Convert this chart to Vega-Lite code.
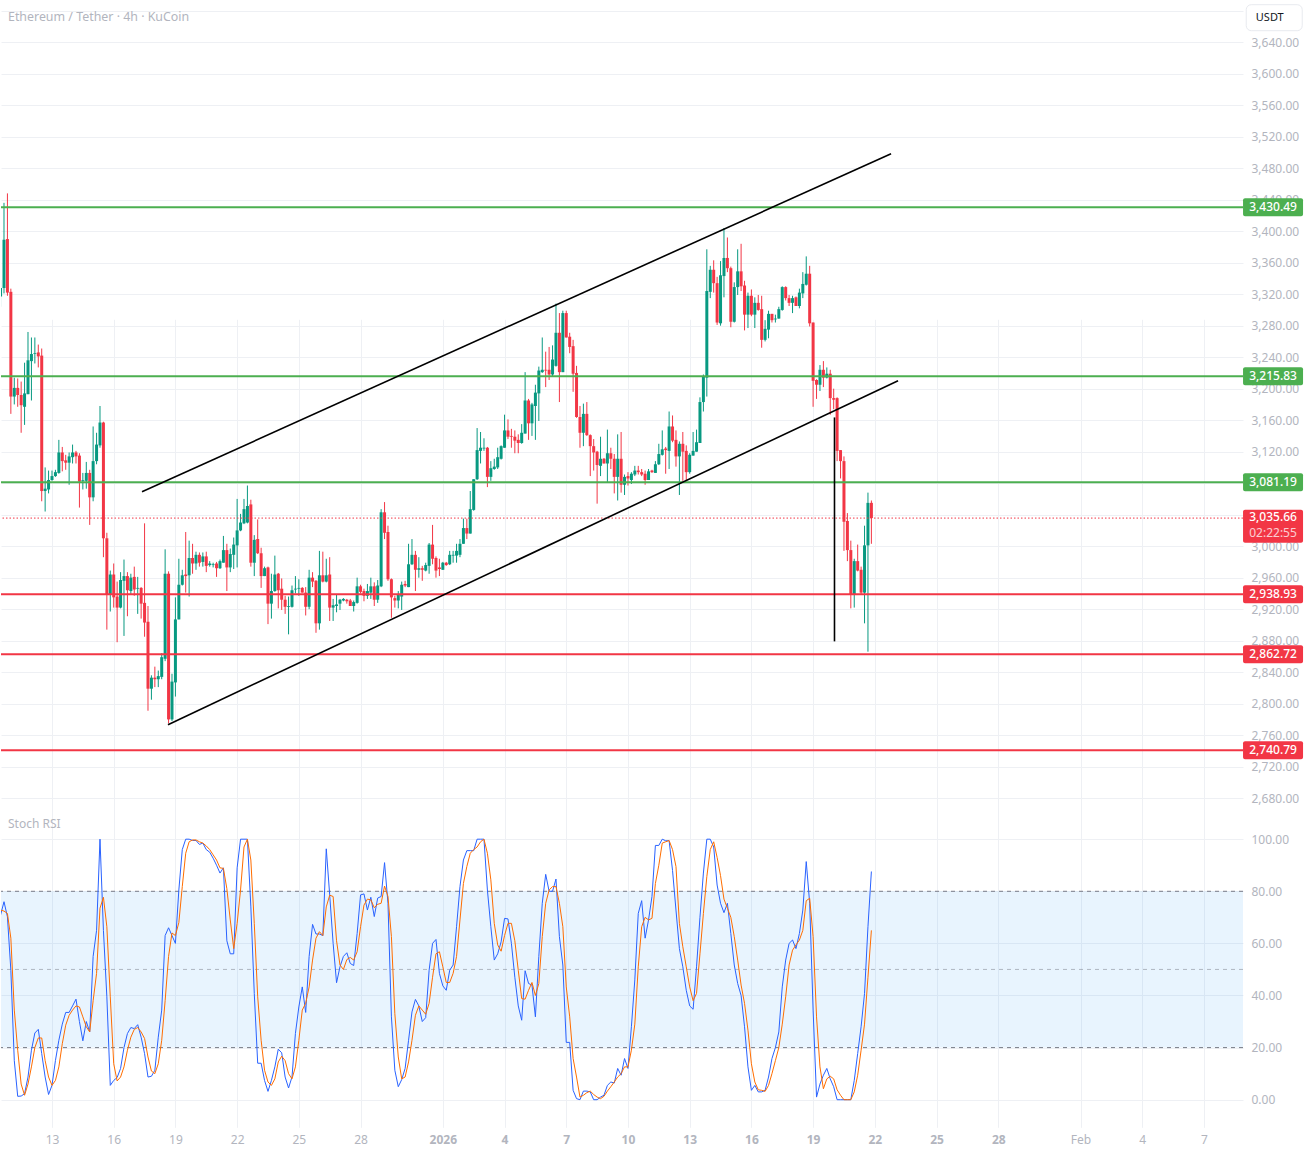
{
"$schema":"https://vega.github.io/schema/vega-lite/v6.json",
"width":1242,"height":1128,"padding":0,"background":"#ffffff",
"datasets":{
"bars":[
{"t":"2025-12-10T12:00Z","o":3317,"h":3338,"l":3304,"c":3328,"k":70.9,"d":72.8},
{"t":"2025-12-10T16:00Z","o":3328,"h":3436,"l":3321,"c":3389,"k":76,"d":72.4},
{"t":"2025-12-10T20:00Z","o":3390,"h":3448,"l":3318,"c":3322,"k":70.2,"d":71.5},
{"t":"2025-12-11T00:00Z","o":3323,"h":3327,"l":3168,"c":3190,"k":49.7,"d":62},
{"t":"2025-12-11T04:00Z","o":3190,"h":3214,"l":3180,"c":3201,"k":15,"d":34.4},
{"t":"2025-12-11T08:00Z","o":3201,"h":3213,"l":3177,"c":3192,"k":1.3,"d":19},
{"t":"2025-12-11T12:00Z","o":3192,"h":3209,"l":3144,"c":3179,"k":1.4,"d":6},
{"t":"2025-12-11T16:00Z","o":3177,"h":3233,"l":3154,"c":3194,"k":2.3,"d":1.7},
{"t":"2025-12-11T20:00Z","o":3193,"h":3272,"l":3193,"c":3236,"k":8.7,"d":6},
{"t":"2025-12-12T00:00Z","o":3235,"h":3265,"l":3185,"c":3244,"k":19,"d":12.6},
{"t":"2025-12-12T04:00Z","o":3244,"h":3265,"l":3232,"c":3245,"k":25.6,"d":20},
{"t":"2025-12-12T08:00Z","o":3246,"h":3256,"l":3227,"c":3241,"k":27,"d":23.7},
{"t":"2025-12-12T12:00Z","o":3242,"h":3251,"l":3057,"c":3070,"k":17.7,"d":23.7},
{"t":"2025-12-12T16:00Z","o":3070,"h":3100,"l":3044,"c":3073,"k":8.7,"d":15},
{"t":"2025-12-12T20:00Z","o":3072,"h":3096,"l":3067,"c":3084,"k":2,"d":8.7},
{"t":"2025-12-13T00:00Z","o":3084,"h":3096,"l":3083,"c":3089,"k":5.5,"d":5.5},
{"t":"2025-12-13T04:00Z","o":3089,"h":3097,"l":3088,"c":3094,"k":15,"d":7.4},
{"t":"2025-12-13T08:00Z","o":3093,"h":3135,"l":3092,"c":3119,"k":22.8,"d":12.6},
{"t":"2025-12-13T12:00Z","o":3119,"h":3126,"l":3095,"c":3108,"k":29,"d":21.5},
{"t":"2025-12-13T16:00Z","o":3109,"h":3116,"l":3097,"c":3106,"k":33.5,"d":28.6},
{"t":"2025-12-13T20:00Z","o":3106,"h":3119,"l":3078,"c":3114,"k":33.5,"d":32.4},
{"t":"2025-12-14T00:00Z","o":3113,"h":3129,"l":3105,"c":3119,"k":36,"d":34.4},
{"t":"2025-12-14T04:00Z","o":3119,"h":3121,"l":3105,"c":3114,"k":38.6,"d":36},
{"t":"2025-12-14T08:00Z","o":3115,"h":3118,"l":3049,"c":3082,"k":30,"d":35.6},
{"t":"2025-12-14T12:00Z","o":3083,"h":3093,"l":3072,"c":3084,"k":22.6,"d":31.8},
{"t":"2025-12-14T16:00Z","o":3083,"h":3107,"l":3073,"c":3093,"k":30,"d":28},
{"t":"2025-12-14T20:00Z","o":3093,"h":3097,"l":3027,"c":3062,"k":26,"d":26},
{"t":"2025-12-15T00:00Z","o":3062,"h":3152,"l":3057,"c":3108,"k":55,"d":38},
{"t":"2025-12-15T04:00Z","o":3108,"h":3144,"l":3104,"c":3129,"k":65,"d":48.5},
{"t":"2025-12-15T08:00Z","o":3128,"h":3178,"l":3125,"c":3157,"k":100,"d":73.5},
{"t":"2025-12-15T12:00Z","o":3157,"h":3158,"l":2986,"c":3010,"k":65,"d":77.7},
{"t":"2025-12-15T16:00Z","o":3010,"h":3017,"l":2894,"c":2938,"k":39.5,"d":66.4},
{"t":"2025-12-15T20:00Z","o":2938,"h":2969,"l":2917,"c":2964,"k":5.5,"d":39.5},
{"t":"2025-12-16T00:00Z","o":2964,"h":2978,"l":2922,"c":2935,"k":7.4,"d":13.8},
{"t":"2025-12-16T04:00Z","o":2936,"h":2955,"l":2878,"c":2922,"k":8.5,"d":7.2},
{"t":"2025-12-16T08:00Z","o":2922,"h":2967,"l":2921,"c":2957,"k":12,"d":8.7},
{"t":"2025-12-16T12:00Z","o":2956,"h":2983,"l":2886,"c":2962,"k":20,"d":12.6},
{"t":"2025-12-16T16:00Z","o":2962,"h":2967,"l":2911,"c":2944,"k":25.4,"d":19},
{"t":"2025-12-16T20:00Z","o":2943,"h":2965,"l":2938,"c":2960,"k":27.7,"d":24},
{"t":"2025-12-17T00:00Z","o":2961,"h":2974,"l":2937,"c":2945,"k":27.3,"d":27},
{"t":"2025-12-17T04:00Z","o":2946,"h":2961,"l":2914,"c":2947,"k":28.8,"d":27.7},
{"t":"2025-12-17T08:00Z","o":2947,"h":2948,"l":2908,"c":2927,"k":24,"d":26},
{"t":"2025-12-17T12:00Z","o":2928,"h":3029,"l":2885,"c":2903,"k":17.7,"d":23.5},
{"t":"2025-12-17T16:00Z","o":2904,"h":2924,"l":2791,"c":2819,"k":8.7,"d":16.4},
{"t":"2025-12-17T20:00Z","o":2819,"h":2836,"l":2805,"c":2833,"k":9,"d":11},
{"t":"2025-12-18T00:00Z","o":2833,"h":2847,"l":2821,"c":2831,"k":11.3,"d":10},
{"t":"2025-12-18T04:00Z","o":2831,"h":2842,"l":2821,"c":2835,"k":24,"d":13.8},
{"t":"2025-12-18T08:00Z","o":2834,"h":2864,"l":2831,"c":2859,"k":34.4,"d":22.8},
{"t":"2025-12-18T12:00Z","o":2857,"h":2996,"l":2854,"c":2965,"k":63,"d":38},
{"t":"2025-12-18T16:00Z","o":2965,"h":2968,"l":2775,"c":2780,"k":66,"d":55},
{"t":"2025-12-18T20:00Z","o":2780,"h":2838,"l":2778,"c":2828,"k":63,"d":64},
{"t":"2025-12-19T00:00Z","o":2827,"h":2935,"l":2809,"c":2907,"k":60,"d":63},
{"t":"2025-12-19T04:00Z","o":2907,"h":2984,"l":2907,"c":2951,"k":80.5,"d":68},
{"t":"2025-12-19T08:00Z","o":2951,"h":2970,"l":2950,"c":2963,"k":96,"d":81.8},
{"t":"2025-12-19T12:00Z","o":2964,"h":3018,"l":2941,"c":2962,"k":100,"d":94.6},
{"t":"2025-12-19T16:00Z","o":2963,"h":3007,"l":2936,"c":2985,"k":100,"d":99},
{"t":"2025-12-19T20:00Z","o":2985,"h":3003,"l":2965,"c":2978,"k":99.5,"d":99.7},
{"t":"2025-12-20T00:00Z","o":2978,"h":2993,"l":2970,"c":2989,"k":99.5,"d":99.7},
{"t":"2025-12-20T04:00Z","o":2989,"h":2992,"l":2974,"c":2979,"k":98,"d":99},
{"t":"2025-12-20T08:00Z","o":2980,"h":2992,"l":2974,"c":2987,"k":98.5,"d":98.5},
{"t":"2025-12-20T12:00Z","o":2987,"h":2993,"l":2967,"c":2975,"k":96,"d":97.4},
{"t":"2025-12-20T16:00Z","o":2976,"h":2981,"l":2974,"c":2978,"k":95,"d":96},
{"t":"2025-12-20T20:00Z","o":2976,"h":2979,"l":2973,"c":2977,"k":92.7,"d":94},
{"t":"2025-12-21T00:00Z","o":2978,"h":2980,"l":2961,"c":2972,"k":90,"d":92},
{"t":"2025-12-21T04:00Z","o":2972,"h":2983,"l":2971,"c":2981,"k":87,"d":89},
{"t":"2025-12-21T08:00Z","o":2979,"h":3013,"l":2979,"c":2995,"k":89,"d":88.8},
{"t":"2025-12-21T12:00Z","o":2995,"h":3003,"l":2943,"c":2973,"k":61,"d":81},
{"t":"2025-12-21T16:00Z","o":2973,"h":2997,"l":2967,"c":2990,"k":56,"d":69},
{"t":"2025-12-21T20:00Z","o":2989,"h":3011,"l":2971,"c":3002,"k":56,"d":58},
{"t":"2025-12-22T00:00Z","o":3001,"h":3060,"l":2973,"c":3020,"k":89,"d":67.7},
{"t":"2025-12-22T04:00Z","o":3020,"h":3041,"l":3019,"c":3030,"k":100,"d":80.5},
{"t":"2025-12-22T08:00Z","o":3029,"h":3060,"l":3028,"c":3047,"k":100,"d":97},
{"t":"2025-12-22T12:00Z","o":3030,"h":3077,"l":3029,"c":3051,"k":100,"d":100},
{"t":"2025-12-22T16:00Z","o":3053,"h":3059,"l":2974,"c":2979,"k":74,"d":92},
{"t":"2025-12-22T20:00Z","o":2979,"h":3014,"l":2962,"c":3008,"k":40.8,"d":67.7},
{"t":"2025-12-23T00:00Z","o":3009,"h":3034,"l":2990,"c":2991,"k":14,"d":39.5},
{"t":"2025-12-23T04:00Z","o":2991,"h":2998,"l":2947,"c":2962,"k":14,"d":22.8},
{"t":"2025-12-23T08:00Z","o":2962,"h":2974,"l":2962,"c":2972,"k":7.4,"d":11.3},
{"t":"2025-12-23T12:00Z","o":2973,"h":2974,"l":2901,"c":2927,"k":3.2,"d":6.8},
{"t":"2025-12-23T16:00Z","o":2927,"h":2965,"l":2908,"c":2943,"k":7.4,"d":5.5},
{"t":"2025-12-23T20:00Z","o":2943,"h":2988,"l":2942,"c":2964,"k":12.6,"d":8},
{"t":"2025-12-24T00:00Z","o":2965,"h":2966,"l":2921,"c":2944,"k":19.4,"d":14.5},
{"t":"2025-12-24T04:00Z","o":2946,"h":2959,"l":2919,"c":2932,"k":18,"d":16.7},
{"t":"2025-12-24T08:00Z","o":2932,"h":2937,"l":2914,"c":2923,"k":8.7,"d":15},
{"t":"2025-12-24T12:00Z","o":2923,"h":2936,"l":2888,"c":2924,"k":4.5,"d":10},
{"t":"2025-12-24T16:00Z","o":2923,"h":2950,"l":2922,"c":2944,"k":8.7,"d":8},
{"t":"2025-12-24T20:00Z","o":2945,"h":2962,"l":2940,"c":2946,"k":25.4,"d":12.6},
{"t":"2025-12-25T00:00Z","o":2946,"h":2958,"l":2937,"c":2947,"k":35.6,"d":22.8},
{"t":"2025-12-25T04:00Z","o":2947,"h":2948,"l":2941,"c":2941,"k":43.3,"d":34.4},
{"t":"2025-12-25T08:00Z","o":2941,"h":2948,"l":2912,"c":2923,"k":33.5,"d":37},
{"t":"2025-12-25T12:00Z","o":2923,"h":2970,"l":2920,"c":2960,"k":55,"d":43.3},
{"t":"2025-12-25T16:00Z","o":2960,"h":2967,"l":2948,"c":2955,"k":67.3,"d":53.6},
{"t":"2025-12-25T20:00Z","o":2956,"h":2957,"l":2890,"c":2902,"k":63.6,"d":62},
{"t":"2025-12-26T00:00Z","o":2902,"h":2994,"l":2894,"c":2963,"k":63.6,"d":64.5},
{"t":"2025-12-26T04:00Z","o":2963,"h":2993,"l":2954,"c":2955,"k":63,"d":63},
{"t":"2025-12-26T08:00Z","o":2955,"h":2984,"l":2954,"c":2963,"k":96.3,"d":74},
{"t":"2025-12-26T12:00Z","o":2964,"h":2986,"l":2905,"c":2922,"k":78.6,"d":78.5},
{"t":"2025-12-26T16:00Z","o":2922,"h":2933,"l":2905,"c":2925,"k":60,"d":78},
{"t":"2025-12-26T20:00Z","o":2924,"h":2938,"l":2916,"c":2926,"k":44.9,"d":61},
{"t":"2025-12-27T00:00Z","o":2927,"h":2933,"l":2919,"c":2932,"k":51,"d":51.7},
{"t":"2025-12-27T04:00Z","o":2931,"h":2934,"l":2930,"c":2933,"k":55,"d":50},
{"t":"2025-12-27T08:00Z","o":2932,"h":2933,"l":2927,"c":2930,"k":56.4,"d":53.8},
{"t":"2025-12-27T12:00Z","o":2931,"h":2933,"l":2924,"c":2924,"k":52.3,"d":54.6},
{"t":"2025-12-27T16:00Z","o":2924,"h":2931,"l":2917,"c":2929,"k":51.5,"d":53.6},
{"t":"2025-12-27T20:00Z","o":2928,"h":2960,"l":2927,"c":2949,"k":63.8,"d":56.8},
{"t":"2025-12-28T00:00Z","o":2949,"h":2951,"l":2940,"c":2942,"k":78.6,"d":66.4},
{"t":"2025-12-28T04:00Z","o":2943,"h":2946,"l":2930,"c":2937,"k":79,"d":74.7},
{"t":"2025-12-28T08:00Z","o":2937,"h":2952,"l":2933,"c":2943,"k":72.8,"d":77},
{"t":"2025-12-28T12:00Z","o":2941,"h":2960,"l":2933,"c":2949,"k":77.7,"d":76.7},
{"t":"2025-12-28T16:00Z","o":2949,"h":2954,"l":2924,"c":2932,"k":70.3,"d":73.7},
{"t":"2025-12-28T20:00Z","o":2932,"h":2957,"l":2928,"c":2950,"k":77.4,"d":75},
{"t":"2025-12-29T00:00Z","o":2949,"h":3047,"l":2948,"c":3043,"k":78,"d":75.4},
{"t":"2025-12-29T04:00Z","o":3043,"h":3056,"l":3009,"c":3017,"k":91,"d":82},
{"t":"2025-12-29T08:00Z","o":3018,"h":3026,"l":2956,"c":2958,"k":75.4,"d":78},
{"t":"2025-12-29T12:00Z","o":2958,"h":2959,"l":2909,"c":2935,"k":31.8,"d":62.6},
{"t":"2025-12-29T16:00Z","o":2934,"h":2937,"l":2922,"c":2931,"k":11.3,"d":33},
{"t":"2025-12-29T20:00Z","o":2931,"h":2943,"l":2921,"c":2939,"k":5,"d":16.4},
{"t":"2025-12-30T00:00Z","o":2936,"h":2955,"l":2919,"c":2951,"k":7.7,"d":8},
{"t":"2025-12-30T04:00Z","o":2952,"h":2956,"l":2948,"c":2950,"k":12,"d":8.7},
{"t":"2025-12-30T08:00Z","o":2948,"h":3003,"l":2948,"c":2977,"k":22.8,"d":14.5},
{"t":"2025-12-30T12:00Z","o":2977,"h":3009,"l":2976,"c":2989,"k":33.7,"d":22.8},
{"t":"2025-12-30T16:00Z","o":2989,"h":2994,"l":2943,"c":2970,"k":38.5,"d":32.4},
{"t":"2025-12-30T20:00Z","o":2970,"h":2986,"l":2960,"c":2972,"k":36,"d":36},
{"t":"2025-12-31T00:00Z","o":2972,"h":2975,"l":2956,"c":2970,"k":30,"d":34.4},
{"t":"2025-12-31T04:00Z","o":2969,"h":2979,"l":2968,"c":2976,"k":31.5,"d":32.8},
{"t":"2025-12-31T08:00Z","o":2975,"h":3004,"l":2965,"c":3002,"k":49.7,"d":37},
{"t":"2025-12-31T12:00Z","o":3002,"h":3027,"l":2977,"c":2984,"k":60,"d":47},
{"t":"2025-12-31T16:00Z","o":2985,"h":2987,"l":2960,"c":2969,"k":61.5,"d":56},
{"t":"2025-12-31T20:00Z","o":2973,"h":2984,"l":2962,"c":2971,"k":48.5,"d":56.8},
{"t":"2026-01-01T00:00Z","o":2970,"h":2980,"l":2970,"c":2979,"k":43.7,"d":51},
{"t":"2026-01-01T04:00Z","o":2979,"h":2980,"l":2975,"c":2976,"k":42,"d":45},
{"t":"2026-01-01T08:00Z","o":2977,"h":2994,"l":2976,"c":2989,"k":49.7,"d":45},
{"t":"2026-01-01T12:00Z","o":2988,"h":2994,"l":2979,"c":2989,"k":51.7,"d":48.5},
{"t":"2026-01-01T16:00Z","o":2988,"h":3003,"l":2979,"c":2994,"k":66.4,"d":55},
{"t":"2026-01-01T20:00Z","o":2989,"h":3009,"l":2986,"c":3003,"k":81.8,"d":69},
{"t":"2026-01-02T00:00Z","o":3003,"h":3035,"l":3003,"c":3023,"k":92,"d":83},
{"t":"2026-01-02T04:00Z","o":3023,"h":3035,"l":3009,"c":3016,"k":95.6,"d":89.5},
{"t":"2026-01-02T08:00Z","o":3016,"h":3070,"l":3016,"c":3047,"k":95.6,"d":94.6},
{"t":"2026-01-02T12:00Z","o":3046,"h":3085,"l":3045,"c":3085,"k":95.6,"d":96},
{"t":"2026-01-02T16:00Z","o":3085,"h":3150,"l":3084,"c":3122,"k":100,"d":97},
{"t":"2026-01-02T20:00Z","o":3121,"h":3145,"l":3105,"c":3125,"k":100,"d":99},
{"t":"2026-01-03T00:00Z","o":3124,"h":3137,"l":3121,"c":3125,"k":100,"d":100},
{"t":"2026-01-03T04:00Z","o":3125,"h":3126,"l":3075,"c":3088,"k":80.5,"d":94.6},
{"t":"2026-01-03T08:00Z","o":3088,"h":3108,"l":3083,"c":3099,"k":66.4,"d":84.4},
{"t":"2026-01-03T12:00Z","o":3098,"h":3111,"l":3097,"c":3101,"k":53.6,"d":67.7},
{"t":"2026-01-03T16:00Z","o":3100,"h":3125,"l":3098,"c":3113,"k":56,"d":59.4},
{"t":"2026-01-03T20:00Z","o":3111,"h":3128,"l":3110,"c":3127,"k":60.6,"d":57},
{"t":"2026-01-04T00:00Z","o":3125,"h":3167,"l":3125,"c":3147,"k":69.6,"d":63},
{"t":"2026-01-04T04:00Z","o":3147,"h":3161,"l":3136,"c":3139,"k":69.4,"d":67.7},
{"t":"2026-01-04T08:00Z","o":3140,"h":3149,"l":3125,"c":3139,"k":60,"d":67.7},
{"t":"2026-01-04T12:00Z","o":3139,"h":3147,"l":3118,"c":3134,"k":47,"d":61},
{"t":"2026-01-04T16:00Z","o":3135,"h":3142,"l":3118,"c":3131,"k":36,"d":49.7},
{"t":"2026-01-04T20:00Z","o":3131,"h":3155,"l":3130,"c":3144,"k":30.5,"d":38.8},
{"t":"2026-01-05T00:00Z","o":3143,"h":3221,"l":3143,"c":3185,"k":49.5,"d":38.6},
{"t":"2026-01-05T04:00Z","o":3185,"h":3187,"l":3135,"c":3156,"k":44.6,"d":42},
{"t":"2026-01-05T08:00Z","o":3156,"h":3182,"l":3140,"c":3180,"k":44,"d":45},
{"t":"2026-01-05T12:00Z","o":3178,"h":3205,"l":3135,"c":3195,"k":31.8,"d":40},
{"t":"2026-01-05T16:00Z","o":3194,"h":3228,"l":3159,"c":3223,"k":55,"d":44.6},
{"t":"2026-01-05T20:00Z","o":3221,"h":3265,"l":3220,"c":3224,"k":75.4,"d":62.6},
{"t":"2026-01-06T00:00Z","o":3224,"h":3247,"l":3202,"c":3223,"k":86.5,"d":75.4},
{"t":"2026-01-06T04:00Z","o":3224,"h":3253,"l":3211,"c":3218,"k":80,"d":80.5},
{"t":"2026-01-06T08:00Z","o":3218,"h":3255,"l":3215,"c":3237,"k":80,"d":81.8},
{"t":"2026-01-06T12:00Z","o":3229,"h":3308,"l":3228,"c":3271,"k":84.7,"d":81.8},
{"t":"2026-01-06T16:00Z","o":3271,"h":3296,"l":3183,"c":3221,"k":62.6,"d":75.4},
{"t":"2026-01-06T20:00Z","o":3221,"h":3299,"l":3221,"c":3296,"k":51.7,"d":66.4},
{"t":"2026-01-07T00:00Z","o":3296,"h":3299,"l":3265,"c":3265,"k":22,"d":43.3},
{"t":"2026-01-07T04:00Z","o":3266,"h":3271,"l":3245,"c":3253,"k":22,"d":31.8},
{"t":"2026-01-07T08:00Z","o":3254,"h":3262,"l":3196,"c":3219,"k":3.6,"d":15.8},
{"t":"2026-01-07T12:00Z","o":3220,"h":3229,"l":3163,"c":3164,"k":0.4,"d":8.7},
{"t":"2026-01-07T16:00Z","o":3164,"h":3178,"l":3125,"c":3144,"k":0,"d":1},
{"t":"2026-01-07T20:00Z","o":3144,"h":3181,"l":3127,"c":3168,"k":3.3,"d":1.7},
{"t":"2026-01-08T00:00Z","o":3168,"h":3183,"l":3140,"c":3141,"k":3.3,"d":2.7},
{"t":"2026-01-08T04:00Z","o":3141,"h":3142,"l":3089,"c":3127,"k":3,"d":3.3},
{"t":"2026-01-08T08:00Z","o":3127,"h":3136,"l":3096,"c":3119,"k":0,"d":2},
{"t":"2026-01-08T12:00Z","o":3120,"h":3121,"l":3054,"c":3103,"k":0,"d":1},
{"t":"2026-01-08T16:00Z","o":3102,"h":3139,"l":3089,"c":3111,"k":1,"d":0.4},
{"t":"2026-01-08T20:00Z","o":3111,"h":3112,"l":3105,"c":3105,"k":1.7,"d":1.3},
{"t":"2026-01-09T00:00Z","o":3105,"h":3148,"l":3081,"c":3118,"k":5.5,"d":3.3},
{"t":"2026-01-09T04:00Z","o":3118,"h":3125,"l":3098,"c":3111,"k":6.8,"d":5},
{"t":"2026-01-09T08:00Z","o":3111,"h":3117,"l":3067,"c":3088,"k":6.4,"d":6.8},
{"t":"2026-01-09T12:00Z","o":3088,"h":3142,"l":3058,"c":3111,"k":12,"d":8.7},
{"t":"2026-01-09T16:00Z","o":3111,"h":3145,"l":3068,"c":3078,"k":9.4,"d":10},
{"t":"2026-01-09T20:00Z","o":3078,"h":3091,"l":3065,"c":3088,"k":15.8,"d":12.6},
{"t":"2026-01-10T00:00Z","o":3089,"h":3094,"l":3077,"c":3086,"k":12,"d":12.6},
{"t":"2026-01-10T04:00Z","o":3084,"h":3094,"l":3079,"c":3092,"k":28,"d":19},
{"t":"2026-01-10T08:00Z","o":3091,"h":3102,"l":3089,"c":3096,"k":46,"d":29},
{"t":"2026-01-10T12:00Z","o":3096,"h":3102,"l":3091,"c":3094,"k":71.5,"d":51},
{"t":"2026-01-10T16:00Z","o":3094,"h":3098,"l":3089,"c":3091,"k":76.4,"d":66.4},
{"t":"2026-01-10T20:00Z","o":3092,"h":3096,"l":3078,"c":3084,"k":62,"d":70},
{"t":"2026-01-11T00:00Z","o":3084,"h":3098,"l":3084,"c":3095,"k":69,"d":69},
{"t":"2026-01-11T04:00Z","o":3096,"h":3097,"l":3093,"c":3094,"k":78,"d":69.6},
{"t":"2026-01-11T08:00Z","o":3093,"h":3108,"l":3093,"c":3104,"k":97.6,"d":83},
{"t":"2026-01-11T12:00Z","o":3104,"h":3130,"l":3103,"c":3117,"k":97.6,"d":90},
{"t":"2026-01-11T16:00Z","o":3116,"h":3147,"l":3115,"c":3123,"k":100,"d":98.5},
{"t":"2026-01-11T20:00Z","o":3124,"h":3126,"l":3092,"c":3122,"k":99.4,"d":99},
{"t":"2026-01-12T00:00Z","o":3121,"h":3171,"l":3098,"c":3152,"k":99.4,"d":99.5},
{"t":"2026-01-12T04:00Z","o":3152,"h":3166,"l":3132,"c":3134,"k":88,"d":96},
{"t":"2026-01-12T08:00Z","o":3135,"h":3147,"l":3101,"c":3114,"k":72.8,"d":89.5},
{"t":"2026-01-12T12:00Z","o":3114,"h":3133,"l":3065,"c":3130,"k":58,"d":67.7},
{"t":"2026-01-12T16:00Z","o":3130,"h":3145,"l":3083,"c":3120,"k":51,"d":58.7},
{"t":"2026-01-12T20:00Z","o":3121,"h":3128,"l":3083,"c":3094,"k":42,"d":51},
{"t":"2026-01-13T00:00Z","o":3094,"h":3118,"l":3092,"c":3116,"k":36,"d":43.3},
{"t":"2026-01-13T04:00Z","o":3115,"h":3145,"l":3115,"c":3121,"k":34.7,"d":38},
{"t":"2026-01-13T08:00Z","o":3120,"h":3148,"l":3120,"c":3132,"k":51,"d":40.8},
{"t":"2026-01-13T12:00Z","o":3131,"h":3189,"l":3131,"c":3183,"k":70,"d":56},
{"t":"2026-01-13T16:00Z","o":3183,"h":3218,"l":3171,"c":3216,"k":87,"d":71.5},
{"t":"2026-01-13T20:00Z","o":3214,"h":3377,"l":3190,"c":3324,"k":100,"d":85.6},
{"t":"2026-01-14T00:00Z","o":3323,"h":3356,"l":3315,"c":3351,"k":100,"d":96},
{"t":"2026-01-14T04:00Z","o":3351,"h":3363,"l":3322,"c":3334,"k":97,"d":99},
{"t":"2026-01-14T08:00Z","o":3334,"h":3342,"l":3281,"c":3284,"k":82.4,"d":93},
{"t":"2026-01-14T12:00Z","o":3283,"h":3362,"l":3280,"c":3344,"k":75.4,"d":86},
{"t":"2026-01-14T16:00Z","o":3343,"h":3404,"l":3316,"c":3366,"k":71.8,"d":77},
{"t":"2026-01-14T20:00Z","o":3366,"h":3392,"l":3348,"c":3353,"k":75.4,"d":73.5},
{"t":"2026-01-15T00:00Z","o":3353,"h":3355,"l":3278,"c":3285,"k":63.8,"d":70},
{"t":"2026-01-15T04:00Z","o":3285,"h":3335,"l":3284,"c":3329,"k":51.7,"d":62.6},
{"t":"2026-01-15T08:00Z","o":3329,"h":3377,"l":3319,"c":3349,"k":44.6,"d":53.6},
{"t":"2026-01-15T12:00Z","o":3349,"h":3384,"l":3324,"c":3330,"k":40,"d":44},
{"t":"2026-01-15T16:00Z","o":3331,"h":3337,"l":3274,"c":3294,"k":28,"d":37},
{"t":"2026-01-15T20:00Z","o":3294,"h":3322,"l":3277,"c":3318,"k":12.6,"d":26.7},
{"t":"2026-01-16T00:00Z","o":3318,"h":3326,"l":3292,"c":3294,"k":3.6,"d":13.8},
{"t":"2026-01-16T04:00Z","o":3294,"h":3316,"l":3277,"c":3309,"k":5.5,"d":6.8},
{"t":"2026-01-16T08:00Z","o":3309,"h":3319,"l":3299,"c":3300,"k":3,"d":3.8},
{"t":"2026-01-16T12:00Z","o":3301,"h":3318,"l":3252,"c":3262,"k":3,"d":3.6},
{"t":"2026-01-16T16:00Z","o":3262,"h":3287,"l":3260,"c":3276,"k":3.6,"d":3.2},
{"t":"2026-01-16T20:00Z","o":3275,"h":3299,"l":3264,"c":3295,"k":8.7,"d":5.5},
{"t":"2026-01-17T00:00Z","o":3295,"h":3295,"l":3284,"c":3287,"k":15.8,"d":10},
{"t":"2026-01-17T04:00Z","o":3288,"h":3294,"l":3284,"c":3289,"k":20,"d":15},
{"t":"2026-01-17T08:00Z","o":3289,"h":3304,"l":3289,"c":3301,"k":26,"d":20},
{"t":"2026-01-17T12:00Z","o":3300,"h":3330,"l":3299,"c":3329,"k":43.3,"d":29},
{"t":"2026-01-17T16:00Z","o":3329,"h":3330,"l":3312,"c":3315,"k":53.6,"d":39.5},
{"t":"2026-01-17T20:00Z","o":3315,"h":3319,"l":3305,"c":3309,"k":60,"d":51.7},
{"t":"2026-01-18T00:00Z","o":3309,"h":3318,"l":3296,"c":3315,"k":61.3,"d":57.4},
{"t":"2026-01-18T04:00Z","o":3316,"h":3317,"l":3305,"c":3305,"k":58,"d":59.4},
{"t":"2026-01-18T08:00Z","o":3305,"h":3327,"l":3302,"c":3322,"k":63.8,"d":61.3},
{"t":"2026-01-18T12:00Z","o":3321,"h":3348,"l":3315,"c":3333,"k":72.8,"d":65},
{"t":"2026-01-18T16:00Z","o":3332,"h":3368,"l":3331,"c":3346,"k":91.4,"d":76.4},
{"t":"2026-01-18T20:00Z","o":3346,"h":3356,"l":3279,"c":3283,"k":75.4,"d":77.3},
{"t":"2026-01-19T00:00Z","o":3284,"h":3284,"l":3177,"c":3210,"k":34.4,"d":62.6},
{"t":"2026-01-19T04:00Z","o":3211,"h":3212,"l":3187,"c":3205,"k":1,"d":31.8},
{"t":"2026-01-19T08:00Z","o":3205,"h":3230,"l":3197,"c":3224,"k":6,"d":12.6},
{"t":"2026-01-19T12:00Z","o":3224,"h":3235,"l":3202,"c":3214,"k":9.4,"d":4.2},
{"t":"2026-01-19T16:00Z","o":3214,"h":3227,"l":3213,"c":3219,"k":12,"d":8},
{"t":"2026-01-19T20:00Z","o":3219,"h":3224,"l":3167,"c":3188,"k":8,"d":9},
{"t":"2026-01-20T00:00Z","o":3188,"h":3200,"l":3174,"c":3186,"k":5,"d":8},
{"t":"2026-01-20T04:00Z","o":3188,"h":3189,"l":3108,"c":3121,"k":0,"d":3.8},
{"t":"2026-01-20T08:00Z","o":3122,"h":3122,"l":3086,"c":3108,"k":0,"d":1.7},
{"t":"2026-01-20T12:00Z","o":3108,"h":3114,"l":2994,"c":3031,"k":0,"d":0},
{"t":"2026-01-20T16:00Z","o":3032,"h":3042,"l":2981,"c":2995,"k":0,"d":0},
{"t":"2026-01-20T20:00Z","o":2995,"h":3007,"l":2921,"c":2938,"k":0,"d":0},
{"t":"2026-01-21T00:00Z","o":2938,"h":2984,"l":2922,"c":2981,"k":7.4,"d":3},
{"t":"2026-01-21T04:00Z","o":2981,"h":3002,"l":2968,"c":2969,"k":17.7,"d":9.4},
{"t":"2026-01-21T08:00Z","o":2970,"h":2974,"l":2938,"c":2941,"k":28,"d":19},
{"t":"2026-01-21T12:00Z","o":2941,"h":3026,"l":2902,"c":3001,"k":40.8,"d":29},
{"t":"2026-01-21T16:00Z","o":3001,"h":3068,"l":2866,"c":3055,"k":66.4,"d":47},
{"t":"2026-01-21T20:00Z","o":3055,"h":3058,"l":3003,"c":3035.66,"k":87.6,"d":65}
],
"levels":[
{"label":"3,430.49","price":3430.49,"kind":"resistance"},
{"label":"3,215.83","price":3215.83,"kind":"resistance"},
{"label":"3,081.19","price":3081.19,"kind":"resistance"},
{"label":"2,938.93","price":2938.93,"kind":"support"},
{"label":"2,862.72","price":2862.72,"kind":"support"},
{"label":"2,740.79","price":2740.79,"kind":"support"}
],
"drawings":[
{"line":"upper","t":"2025-12-17T09:00Z","price":3069.1},
{"line":"upper","t":"2026-01-22T18:57Z","price":3498.4},
{"line":"lower","t":"2025-12-18T15:20Z","price":2773.3},
{"line":"lower","t":"2026-01-23T03:07Z","price":3210.1},
{"line":"target","t":"2026-01-20T00:57Z","price":3163.5},
{"line":"target","t":"2026-01-20T00:57Z","price":2879.1}
],
"band":[{"low":20,"high":80}],
"guides":[{"v":80},{"v":50},{"v":20}]
},
"layer":[
{"layer":[
{"data":{"name":"bars"},
 "mark":{"type":"rule","strokeWidth":1,"clip":true},
 "encoding":{
  "x":{"field":"t","type":"temporal","title":null,
   "scale":{"type":"utc","padding":0,"domain":[{"year":2025,"month":12,"date":10,"hours":12,"minutes":30,"utc":true},{"year":2026,"month":2,"date":8,"hours":21,"minutes":34,"utc":true}]},
   "axis":{"orient":"bottom","grid":true,"gridColor":"#EEF0F4","gridWidth":1,"domain":false,"ticks":false,"labelColor":"#B2B5BE","labelFont":"Noto Sans","labelFontSize":12,"labelPadding":6,"labelFlush":false,"labelOverlap":false,
    "labelFontWeight":{"condition":{"test":"utcmonth(datum.value)==0","value":"bold"},"value":"normal"},
    "labelExpr":"utcdate(datum.value)==1 ? (utcmonth(datum.value)==0 ? '2026' : 'Feb') : ''+utcdate(datum.value)",
    "values":[
     {"year":2025,"month":12,"date":13,"utc":true},{"year":2025,"month":12,"date":16,"utc":true},{"year":2025,"month":12,"date":19,"utc":true},{"year":2025,"month":12,"date":22,"utc":true},{"year":2025,"month":12,"date":25,"utc":true},{"year":2025,"month":12,"date":28,"utc":true},
     {"year":2026,"month":1,"date":1,"utc":true},{"year":2026,"month":1,"date":4,"utc":true},{"year":2026,"month":1,"date":7,"utc":true},{"year":2026,"month":1,"date":10,"utc":true},{"year":2026,"month":1,"date":13,"utc":true},{"year":2026,"month":1,"date":16,"utc":true},{"year":2026,"month":1,"date":19,"utc":true},{"year":2026,"month":1,"date":22,"utc":true},{"year":2026,"month":1,"date":25,"utc":true},{"year":2026,"month":1,"date":28,"utc":true},
     {"year":2026,"month":2,"date":1,"utc":true},{"year":2026,"month":2,"date":4,"utc":true},{"year":2026,"month":2,"date":7,"utc":true}]}},
  "y":{"field":"l","type":"quantitative","title":null,
   "scale":{"domain":[2666.6,3692.7],"range":[808.7,0.7],"nice":false,"zero":false},
   "axis":{"orient":"right","grid":true,"gridColor":"#EEF0F4","gridWidth":1,"domain":false,"ticks":false,"labelColor":"#B2B5BE","labelFont":"Noto Sans","labelFontSize":12,"labelPadding":8,"labelFlush":false,"labelOverlap":false,"format":",.2f",
    "values":[2680,2720,2760,2800,2840,2880,2920,2960,3000,3040,3080,3120,3160,3200,3240,3280,3320,3360,3400,3440,3480,3520,3560,3600,3640,3680]}},
  "y2":{"field":"h"},
  "color":{"condition":{"test":"datum.c>=datum.o","value":"#089981"},"value":"#F23645"}}},
{"data":{"name":"bars"},
 "mark":{"type":"bar","size":3,"clip":true},
 "encoding":{
  "x":{"field":"t","type":"temporal","title":null},
  "y":{"field":"o","type":"quantitative","title":null},
  "y2":{"field":"c"},
  "color":{"condition":{"test":"datum.c>=datum.o","value":"#089981"},"value":"#F23645"}}},
{"data":{"values":[{"price":3035.66}]},
 "mark":{"type":"rule","stroke":"#F23645","strokeWidth":1,"strokeDash":[1.5,2]},
 "encoding":{"y":{"field":"price","type":"quantitative","title":null}}},
{"data":{"name":"levels"},
 "mark":{"type":"rule","strokeWidth":2},
 "encoding":{
  "y":{"field":"price","type":"quantitative","title":null},
  "color":{"field":"kind","type":"nominal","legend":null,"scale":{"domain":["resistance","support"],"range":["#4CAF50","#F23645"]}}}},
{"data":{"name":"drawings"},
 "mark":{"type":"line","color":"#000000","strokeWidth":1.6},
 "encoding":{
  "x":{"field":"t","type":"temporal","title":null},
  "y":{"field":"price","type":"quantitative","title":null},
  "detail":{"field":"line"}}},
{"data":{"name":"levels"},
 "mark":{"type":"rect","width":60,"height":18,"cornerRadius":2},
 "encoding":{
  "x":{"datum":{"year":2026,"month":2,"date":10,"hours":8,"minutes":37,"utc":true},"type":"temporal","title":null,"scale":{"type":"utc","padding":0,"domain":[{"year":2025,"month":12,"date":10,"hours":12,"minutes":30,"utc":true},{"year":2026,"month":2,"date":8,"hours":21,"minutes":34,"utc":true}]}},
  "y":{"field":"price","type":"quantitative","title":null},
  "color":{"field":"kind","type":"nominal","legend":null}}},
{"data":{"name":"levels"},
 "mark":{"type":"text","color":"#ffffff","font":"Noto Sans","fontSize":12,"fontWeight":500,"align":"center","baseline":"middle"},
 "encoding":{
  "x":{"datum":{"year":2026,"month":2,"date":10,"hours":8,"minutes":37,"utc":true},"type":"temporal","title":null,"scale":{"type":"utc","padding":0,"domain":[{"year":2025,"month":12,"date":10,"hours":12,"minutes":30,"utc":true},{"year":2026,"month":2,"date":8,"hours":21,"minutes":34,"utc":true}]}},
  "y":{"field":"price","type":"quantitative","title":null},
  "text":{"field":"label"}}},
{"data":{"values":[{"price":3025.3}]},
 "mark":{"type":"rect","width":60,"height":33,"cornerRadius":2,"color":"#F23645"},
 "encoding":{
  "x":{"datum":{"year":2026,"month":2,"date":10,"hours":8,"minutes":37,"utc":true},"type":"temporal","title":null,"scale":{"type":"utc","padding":0,"domain":[{"year":2025,"month":12,"date":10,"hours":12,"minutes":30,"utc":true},{"year":2026,"month":2,"date":8,"hours":21,"minutes":34,"utc":true}]}},
  "y":{"field":"price","type":"quantitative","title":null}}},
{"data":{"values":[{"price":3036.5,"label":"3,035.66"}]},
 "mark":{"type":"text","color":"#ffffff","font":"Noto Sans","fontSize":12,"fontWeight":500,"align":"center","baseline":"middle"},
 "encoding":{
  "x":{"datum":{"year":2026,"month":2,"date":10,"hours":8,"minutes":37,"utc":true},"type":"temporal","title":null,"scale":{"type":"utc","padding":0,"domain":[{"year":2025,"month":12,"date":10,"hours":12,"minutes":30,"utc":true},{"year":2026,"month":2,"date":8,"hours":21,"minutes":34,"utc":true}]}},
  "y":{"field":"price","type":"quantitative","title":null},
  "text":{"field":"label"}}},
{"data":{"values":[{"price":3017,"label":"02:22:55"}]},
 "mark":{"type":"text","color":"#ffffff","opacity":0.75,"font":"Noto Sans","fontSize":12,"align":"center","baseline":"middle"},
 "encoding":{
  "x":{"datum":{"year":2026,"month":2,"date":10,"hours":8,"minutes":37,"utc":true},"type":"temporal","title":null,"scale":{"type":"utc","padding":0,"domain":[{"year":2025,"month":12,"date":10,"hours":12,"minutes":30,"utc":true},{"year":2026,"month":2,"date":8,"hours":21,"minutes":34,"utc":true}]}},
  "y":{"field":"price","type":"quantitative","title":null},
  "text":{"field":"label"}}},
{"data":{"values":[{"price":3671.1}]},
 "mark":{"type":"rect","width":56,"height":26,"cornerRadius":5,"color":"#ffffff","stroke":"#E8EAEF","strokeWidth":1},
 "encoding":{
  "x":{"datum":{"year":2026,"month":2,"date":10,"hours":10,"utc":true},"type":"temporal","title":null,"scale":{"type":"utc","padding":0,"domain":[{"year":2025,"month":12,"date":10,"hours":12,"minutes":30,"utc":true},{"year":2026,"month":2,"date":8,"hours":21,"minutes":34,"utc":true}]}},
  "y":{"field":"price","type":"quantitative","title":null}}},
{"data":{"values":[{"price":3671.1,"label":"USDT"}]},
 "mark":{"type":"text","color":"#131722","font":"Noto Sans","fontSize":11,"align":"left","baseline":"middle"},
 "encoding":{
  "x":{"datum":{"year":2026,"month":2,"date":9,"hours":12,"minutes":30,"utc":true},"type":"temporal","title":null,"scale":{"type":"utc","padding":0,"domain":[{"year":2025,"month":12,"date":10,"hours":12,"minutes":30,"utc":true},{"year":2026,"month":2,"date":8,"hours":21,"minutes":34,"utc":true}]}},
  "y":{"field":"price","type":"quantitative","title":null},
  "text":{"field":"label"}}},
{"data":{"values":[{"price":3672.4,"label":"Ethereum / Tether · 4h · KuCoin"}]},
 "mark":{"type":"text","color":"#B2B5BE","font":"Noto Sans","fontSize":12.4,"align":"left","baseline":"middle"},
 "encoding":{
  "x":{"datum":{"year":2025,"month":12,"date":10,"hours":20,"minutes":40,"utc":true},"type":"temporal","title":null},
  "y":{"field":"price","type":"quantitative","title":null},
  "text":{"field":"label"}}}
]},
{"layer":[
{"data":{"name":"band"},
 "mark":{"type":"rect","color":"#2196F3","opacity":0.1},
 "encoding":{
  "y":{"field":"low","type":"quantitative","title":null,
   "scale":{"domain":[-11.13,111.7],"range":[1128.7,808.7],"nice":false,"zero":false},
   "axis":{"orient":"right","grid":true,"gridColor":"#EEF0F4","gridWidth":1,"domain":false,"ticks":false,"labelColor":"#B2B5BE","labelFont":"Noto Sans","labelFontSize":12,"labelPadding":8,"labelFlush":false,"labelOverlap":false,"format":".2f","values":[0,20,40,60,80,100]}},
  "y2":{"field":"high"}}},
{"data":{"name":"guides"},
 "mark":{"type":"rule","color":"#787B86","strokeWidth":1,"strokeDash":[4,4]},
 "encoding":{
  "y":{"field":"v","type":"quantitative","title":null},
  "opacity":{"condition":{"test":"datum.v==50","value":0.5},"value":1}}},
{"data":{"name":"bars"},
 "mark":{"type":"line","color":"#2962FF","strokeWidth":1,"clip":true},
 "encoding":{
  "x":{"field":"t","type":"temporal","title":null},
  "y":{"field":"k","type":"quantitative","title":null}}},
{"data":{"name":"bars"},
 "mark":{"type":"line","color":"#FF6D00","strokeWidth":1,"clip":true},
 "encoding":{
  "x":{"field":"t","type":"temporal","title":null},
  "y":{"field":"d","type":"quantitative","title":null}}},
{"data":{"values":[{"v":105.8,"label":"Stoch RSI"}]},
 "mark":{"type":"text","color":"#B2B5BE","font":"Noto Sans","fontSize":12,"align":"left","baseline":"middle"},
 "encoding":{
  "x":{"datum":{"year":2025,"month":12,"date":10,"hours":20,"minutes":40,"utc":true},"type":"temporal","title":null},
  "y":{"field":"v","type":"quantitative","title":null},
  "text":{"field":"label"}}}
]}
],
"resolve":{"scale":{"y":"independent"},"axis":{"y":"independent"}},
"config":{"view":{"stroke":null},"scale":{"continuousPadding":0}}
}
